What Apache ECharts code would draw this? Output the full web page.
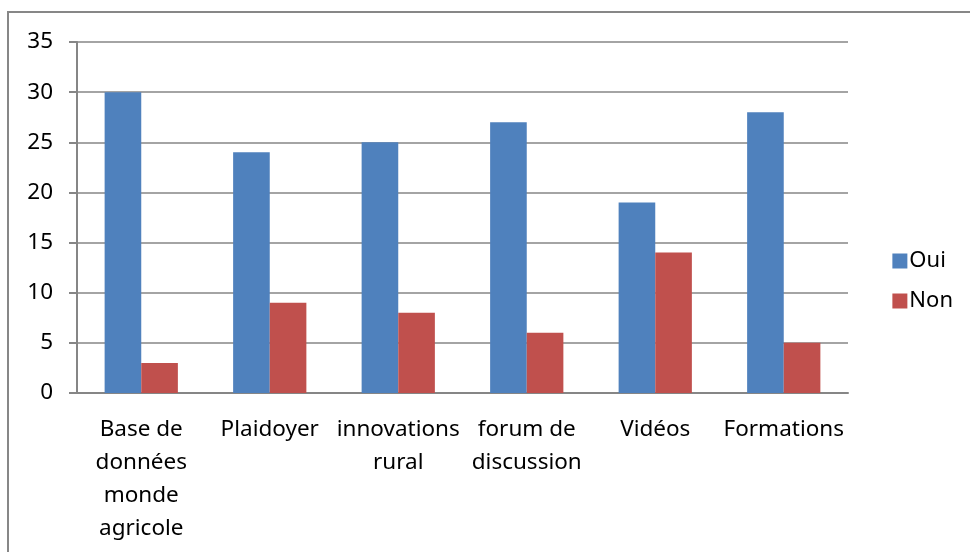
<!DOCTYPE html>
<html>
<head>
<meta charset="utf-8">
<script src="https://cdn.jsdelivr.net/npm/echarts@6/dist/echarts.min.js"></script>
<style>html,body{margin:0;padding:0;background:#fff;}#c{width:970px;height:552px;}</style>
</head>
<body>
<div id="c"></div>
<script>
var categories = ['Base de\ndonnées\nmonde\nagricole', 'Plaidoyer', 'innovations\nrural', 'forum de\ndiscussion', 'Vidéos', 'Formations'];
var seriesNames = ['Oui', 'Non'];
var ouiValues = [30, 24, 25, 27, 19, 28];
var nonValues = [3, 9, 8, 6, 14, 5];
var yTicks = {min: 0, max: 35, interval: 5};

var font = '"Noto Sans", "Open Sans", sans-serif';
var chart = echarts.init(document.getElementById('c'), null, {renderer: 'canvas'});
chart.setOption({
  animation: false,
  backgroundColor: '#fff',
  graphic: [{
    type: 'rect', silent: true,
    shape: {x: 8, y: 12, width: 1000, height: 600},
    style: {fill: 'none', stroke: '#878787', lineWidth: 2}
  }],
  grid: {left: 77, right: 122, top: 42, bottom: 159, containLabel: false},
  legend: {
    orient: 'vertical', right: 12, top: 245,
    itemWidth: 15, itemHeight: 15, itemGap: 18, icon: 'rect',
    textStyle: {fontFamily: font, fontSize: 22, color: '#000', padding: [0, 0, 0, -3]},
    data: seriesNames
  },
  xAxis: {
    type: 'category', data: categories,
    axisLine: {lineStyle: {color: '#868686', width: 2}},
    axisTick: {length: 8, lineStyle: {color: '#868686', width: 2}},
    axisLabel: {fontFamily: font, fontSize: 22.5, color: '#000', lineHeight: 33, margin: 20, interval: 0}
  },
  yAxis: {
    type: 'value', min: yTicks.min, max: yTicks.max, interval: yTicks.interval,
    axisLine: {show: true, lineStyle: {color: '#868686', width: 2}},
    axisTick: {show: true, length: 8, lineStyle: {color: '#868686', width: 2}},
    splitLine: {lineStyle: {color: '#868686', width: 1.5}},
    axisLabel: {fontFamily: font, fontSize: 22.5, color: '#000', margin: 24}
  },
  series: [
    {name: seriesNames[0], type: 'bar', data: ouiValues, itemStyle: {color: '#4F81BD'}, barGap: '0%', barCategoryGap: '43%'},
    {name: seriesNames[1], type: 'bar', data: nonValues, itemStyle: {color: '#C0504D'}, barGap: '0%', barCategoryGap: '43%'}
  ]
});
</script>
</body>
</html>
